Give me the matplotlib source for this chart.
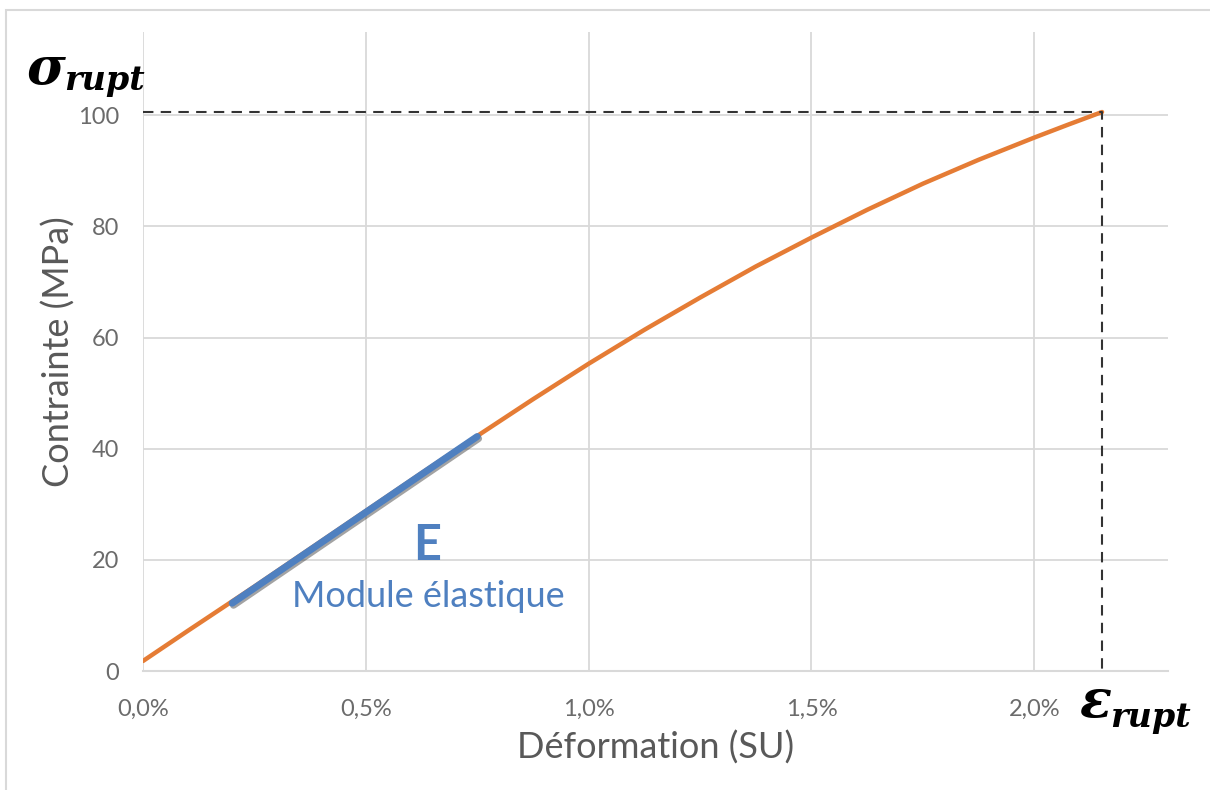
import matplotlib.pyplot as plt
import matplotlib.patheffects as pe
from matplotlib.patches import Rectangle
from matplotlib.ticker import FuncFormatter

# strain in %, stress in MPa
strain = [0.0, 0.1, 0.25, 0.375, 0.5, 0.625, 0.75, 0.875, 1.0, 1.125, 1.25,
          1.375, 1.5, 1.625, 1.75, 1.875, 2.0, 2.075, 2.152]
stress = [1.8, 7.2, 15.2, 22.0, 28.8, 35.6, 42.3, 48.9, 55.3, 61.4, 67.2,
          72.8, 78.0, 83.0, 87.7, 92.0, 96.0, 98.3, 100.6]

# elastic modulus segment
modulus_strain = [0.2, 0.75]
modulus_stress = [12.2, 42.2]

x_ticks = [0.0, 0.5, 1.0, 1.5, 2.0]
y_ticks = [0, 20, 40, 60, 80, 100]

plt.rcParams['font.family'] = ['Lato', 'DejaVu Sans']

fig = plt.figure(figsize=(12.1, 7.9), dpi=100)
ax = fig.add_axes([143 / 1210, 1 - 671 / 790, (1168 - 143) / 1210, (671 - 32) / 790])

# outer frame
fig.patches.append(Rectangle((6 / 1210, -0.05), 1.1, 1 - 10 / 790 + 0.05,
                             transform=fig.transFigure, fill=False,
                             edgecolor='#d9d9d9', lw=1.5))

ax.plot(strain, stress, color='#e57c35', lw=3.2, solid_capstyle='round', zorder=3)
ax.plot(modulus_strain, modulus_stress, color='#4f80c0', lw=5, solid_capstyle='round', zorder=4,
        path_effects=[pe.SimpleLineShadow(offset=(1, -1.5), shadow_color='#333333', alpha=0.45),
                      pe.Normal()])

# rupture guides
x_r, y_r = strain[-1], stress[-1]
ax.plot([0, x_r, x_r], [y_r, y_r, 0], color='#333333', lw=1.5, ls=(0, (5, 3.5)), zorder=5)

ax.set_xlim(0, 2.3)
ax.set_ylim(0, 115)
ax.set_xticks(x_ticks)
ax.set_yticks(y_ticks)
ax.xaxis.set_major_formatter(FuncFormatter(lambda v, p: f"{v:.1f}%".replace('.', ',')))
ax.grid(True, color='#d9d9d9', lw=1.3)
ax.set_axisbelow(True)
for s in ['top', 'right', 'left']:
    ax.spines[s].set_visible(False)
ax.spines['bottom'].set_color('#d9d9d9')
ax.spines['bottom'].set_linewidth(1.5)
ax.tick_params(length=0, labelsize=17, labelcolor='#6b6b6b')
ax.tick_params(axis='y', pad=17)
ax.tick_params(axis='x', pad=20)

ax.set_xlabel('Déformation (SU)', fontsize=26, color='#595959', labelpad=8)
ax.set_ylabel('Contrainte (MPa)', fontsize=26, color='#595959', labelpad=2)

ax.text(0.277, 0.197, 'E', transform=ax.transAxes, fontsize=35, fontweight='bold',
        color='#4f80c0', ha='center', va='center')
ax.text(0.278, 0.116, 'Module élastique', transform=ax.transAxes, fontsize=26,
        color='#4f80c0', ha='center', va='center')

# rupture labels
fig.text(26 / 1210, 1 - 84 / 790, 'σ', fontsize=38, fontweight='bold', fontstyle='italic',
         family='DejaVu Serif', color='black', ha='left', va='baseline')
fig.text(64 / 1210, 1 - 90 / 790, 'rupt', fontsize=24, fontweight='bold', fontstyle='italic',
         family='DejaVu Serif', color='black', ha='left', va='baseline')
fig.text(1079 / 1210, 1 - 717 / 790, 'ε', fontsize=38, fontweight='bold', fontstyle='italic',
         family='DejaVu Serif', color='black', ha='left', va='baseline')
fig.text(1110 / 1210, 1 - 727 / 790, 'rupt', fontsize=24, fontweight='bold', fontstyle='italic',
         family='DejaVu Serif', color='black', ha='left', va='baseline')

fig.savefig('out.png', dpi=100)
